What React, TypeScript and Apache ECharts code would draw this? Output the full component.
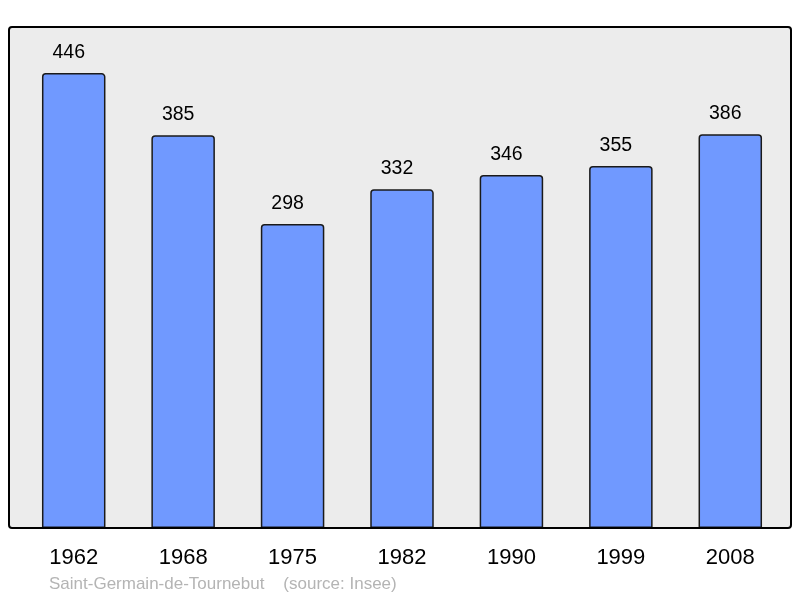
import React, { useEffect, useRef } from "react";
import * as echarts from "echarts";

const years = ["1962", "1968", "1975", "1982", "1990", "1999", "2008"];
const population = [446, 385, 298, 332, 346, 355, 386];
const footerText = "Saint-Germain-de-Tournebut    (source: Insee)";

export default function App() {
  const ref = useRef<HTMLDivElement>(null);
  useEffect(() => {
    if (!ref.current) return;
    const chart = echarts.init(ref.current, null, { renderer: "svg" });
    chart.setOption({
      animation: false,
      grid: { left: 19, right: 15, top: 18, bottom: 70 },
      xAxis: {
        type: "category",
        data: years,
        axisLine: { show: false },
        axisTick: { show: false },
        axisLabel: {
          color: "#000",
          fontSize: 22,
          fontFamily: "Liberation Sans",
          margin: 17,
        },
      },
      yAxis: {
        type: "value",
        min: 0,
        max: 500,
        show: false,
        splitLine: { show: false },
      },
      graphic: [
        {
          type: "rect",
          z: -10,
          shape: { x: 9, y: 27, width: 782, height: 501, r: 3 },
          style: { fill: "#ececec", stroke: "none" },
        },
        {
          type: "rect",
          z: 100,
          shape: { x: 9, y: 27, width: 782, height: 501, r: 3 },
          style: { fill: "none", stroke: "#000", lineWidth: 2 },
        },
        {
          type: "text",
          x: 49,
          y: 575,
          style: {
            text: footerText,
            fill: "#b4b4b4",
            fontSize: 17,
            fontFamily: "Liberation Sans",
          },
        },
      ],
      series: [
        {
          type: "bar",
          data: population,
          barWidth: 63.5,
          itemStyle: {
            color: "#7099ff",
            borderColor: "#1a1a1a",
            borderWidth: 1.5,
            borderRadius: [3, 3, 0, 0],
          },
          label: {
            show: true,
            position: "top",
            distance: 12,
            offset: [-5, 0],
            color: "#000",
            fontSize: 19.5,
            fontFamily: "Liberation Sans",
          },
        },
      ],
    });
    return () => chart.dispose();
  }, []);
  return (
    <div
      ref={ref}
      style={{ position: "fixed", left: 0, top: 0, width: 800, height: 598 }}
    />
  );
}
